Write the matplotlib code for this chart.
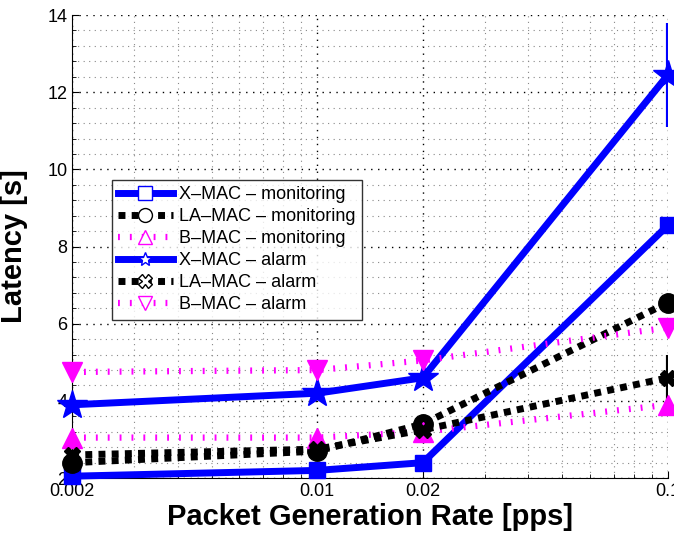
import numpy as np
import matplotlib
matplotlib.use("Agg")
import matplotlib.pyplot as plt
from matplotlib.ticker import FixedLocator, NullFormatter, MultipleLocator

plt.rcParams["font.family"] = ["Liberation Sans", "DejaVu Sans"]

# data
rates = [0.002, 0.01, 0.02, 0.1]
xmac_mon = [2.05, 2.2, 2.4, 8.55]
lamac_mon = [2.4, 2.7, 3.4, 6.55]
bmac_mon = [3.05, 3.05, 3.2, 3.9]
xmac_alarm = [3.9, 4.2, 4.6, 12.45]
lamac_alarm = [2.6, 2.75, 3.25, 4.6]
bmac_alarm = [4.75, 4.8, 5.05, 5.9]

xmac_mon_err = [0.05, 0.05, 0.05, 0.1]
lamac_mon_err = [0.1, 0.1, 0.15, 0.15]
bmac_mon_err = [0.05, 0.05, 0.1, 0.1]
xmac_alarm_err = [0.1, 0.1, 0.1, 1.35]
lamac_alarm_err = [0.1, 0.1, 0.3, 0.6]
bmac_alarm_err = [0.05, 0.05, 0.05, 0.1]

labels = ["X\u2013MAC \u2013 monitoring", "LA\u2013MAC \u2013 monitoring", "B\u2013MAC \u2013 monitoring",
          "X\u2013MAC \u2013 alarm", "LA\u2013MAC \u2013 alarm", "B\u2013MAC \u2013 alarm"]

fig = plt.figure(figsize=(6.74, 5.36), dpi=100)
ax = fig.add_axes([0.107, 0.108, 0.884, 0.864])

blue = "#0000ff"
mag = "#ff00ff"
dash_k = (0, (1.0, 0.9))
dot_m = (0, (0.3, 1.6))

series = [
    (xmac_mon, xmac_mon_err, blue, "-", 5, "s", 11, labels[0]),
    (lamac_mon, lamac_mon_err, "black", dash_k, 5, "o", 14, labels[1]),
    (bmac_mon, bmac_mon_err, mag, dot_m, 4.5, "^", 15, labels[2]),
    (xmac_alarm, xmac_alarm_err, blue, "-", 5, "*", 22, labels[3]),
    (lamac_alarm, lamac_alarm_err, "black", dash_k, 5, "X", 12, labels[4]),
    (bmac_alarm, bmac_alarm_err, mag, dot_m, 4.5, "v", 15, labels[5]),
]

handles = []
for ys, err, c, ls, lw, mk, ms, lab in series:
    ax.errorbar(rates, ys, yerr=err, color=c, ecolor=c, elinewidth=3, capsize=0,
                linestyle="none", zorder=2)
    line, = ax.plot(rates, ys, color=c, linestyle=ls, linewidth=lw, marker=mk,
                    markersize=ms, markerfacecolor=c, markeredgecolor=c,
                    dash_capstyle="butt", label=lab, zorder=3, clip_on=False)
    handles.append(line)

ax.set_xscale("log")
ax.set_xlim(0.002, 0.1)
ax.set_ylim(2, 14)
ax.xaxis.set_major_locator(FixedLocator([0.002, 0.01, 0.02, 0.1]))
ax.set_xticklabels(["0.002", "0.01", "0.02", "0.1"])
minors = [0.003, 0.004, 0.005, 0.006, 0.007, 0.008, 0.009,
          0.03, 0.04, 0.05, 0.06, 0.07, 0.08, 0.09]
ax.xaxis.set_minor_locator(FixedLocator(minors))
ax.xaxis.set_minor_formatter(NullFormatter())
ax.yaxis.set_major_locator(MultipleLocator(2))
ax.yaxis.set_minor_locator(MultipleLocator(0.4))

ax.grid(which="major", color="black", linestyle=(0, (1, 4)), linewidth=1.0)
ax.grid(which="minor", color="#888888", linestyle=(0, (1, 4)), linewidth=0.8)
ax.set_axisbelow(True)

ax.spines["top"].set_visible(False)
ax.spines["right"].set_visible(False)
ax.tick_params(which="both", direction="in", labelsize=13)
ax.tick_params(which="major", length=5)
ax.tick_params(which="minor", length=3)

ax.set_xlabel("Packet Generation Rate [pps]", fontsize=21, fontweight="bold", labelpad=2)
ax.set_ylabel("Latency [s]", fontsize=21, fontweight="bold", labelpad=14)

leg = ax.legend(handles=handles, loc="upper left", bbox_to_anchor=(0.067, 0.644),
                borderaxespad=0, fontsize=13, frameon=True, fancybox=False,
                edgecolor="black", handlelength=3.0, labelspacing=0.28,
                borderpad=0.35, handletextpad=0.35)
leg.get_frame().set_linewidth(1.0)
for lh in leg.legend_handles:
    lh.set_markerfacecolor("white")
    lh.set_markersize(10)

fig.savefig("out.png", dpi=100)
